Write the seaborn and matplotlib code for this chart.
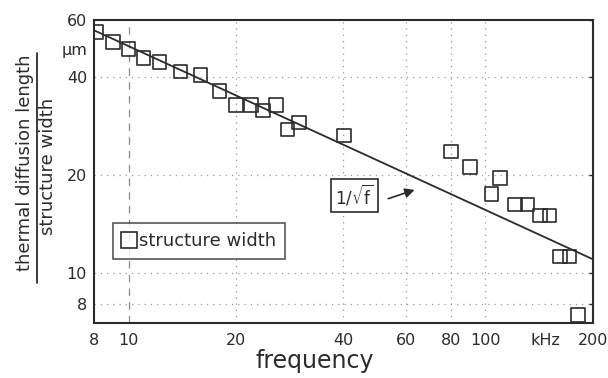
import numpy as np
import pandas as pd
import matplotlib
matplotlib.use("Agg")
import matplotlib.pyplot as plt
from matplotlib.lines import Line2D
import seaborn as sns

# measured points (kHz, diffusion length / structure width)
freq = [8.1, 9.05, 10.0, 11.0, 12.2, 14.0, 15.9, 18.0, 20.0, 22.0, 23.8, 25.9, 27.9,
        30.0, 40.1, 80.0, 90.4, 104, 110, 121, 131, 142, 151, 162, 172, 182]
width = [55.2, 51.3, 48.8, 45.8, 44.5, 41.6, 40.7, 36.3, 32.8, 32.8, 31.6, 32.8, 27.6,
         29.0, 26.5, 23.6, 21.2, 17.5, 19.6, 16.2, 16.2, 15.0, 15.0, 11.2, 11.2, 7.4]

# 1/sqrt(f) reference line endpoints
fit_freq = [8, 200]
fit_val = [55.8, 11.0]

xticks = [8, 10, 20, 40, 60, 80, 100, 200]
yticks = [8, 10, 20, 40, 60]
xgrid = [20, 40, 60, 80, 100]
ygrid = [8, 10, 20, 40]

pts = pd.DataFrame({"f": freq, "w": width})
fit = pd.DataFrame({"f": fit_freq, "w": fit_val})

sns.set_theme(style="white")
plt.rcParams['font.family'] = ['DejaVu Sans']
ink = "#2b2b2b"

fig = plt.figure(figsize=(6.08, 3.78), dpi=100)
ax = fig.add_axes([0.1546, 0.1455, 0.8205, 0.8015])
ax.set_xscale("log")
ax.set_yscale("log")
ax.set_xlim(8, 200)
ax.set_ylim(7, 60)

for g in xgrid:
    ax.axvline(g, color="#9a9a9a", lw=0.9, ls=(0, (1, 4)), zorder=0)
for g in ygrid:
    ax.axhline(g, color="#9a9a9a", lw=0.9, ls=(0, (1, 4)), zorder=0)
ax.axvline(10, color="#8a8a8a", lw=0.9, ls=(0, (6, 5)), zorder=0)

sns.lineplot(data=fit, x="f", y="w", ax=ax, color=ink, lw=1.3, zorder=2)
sns.scatterplot(data=pts, x="f", y="w", ax=ax, marker="s", s=95,
                facecolor="none", edgecolor=ink, linewidth=1.2, zorder=3)

ax.set_xticks(xticks, labels=[str(t) for t in xticks])
ax.set_yticks(yticks, labels=[str(t) for t in yticks])
ax.set_xticks([147], labels=["kHz"], minor=True)
ax.set_yticks([49], labels=["μm"], minor=True)
ax.tick_params(which="major", direction="in", length=3, width=1, color=ink,
               labelsize=11.5, labelcolor=ink, top=False, right=True)
ax.tick_params(axis="x", which="major", pad=7)
ax.tick_params(axis="y", which="major", pad=5)
ax.tick_params(which="minor", length=0, labelsize=11.5, labelcolor=ink)
ax.tick_params(axis="x", which="minor", pad=7)
ax.tick_params(axis="y", which="minor", pad=5)
for s in ax.spines.values():
    s.set_color(ink)
    s.set_linewidth(1.5)
ax.set_xlabel("")
ax.set_ylabel("")

handle = Line2D([], [], marker="s", ls="none", markersize=11, markerfacecolor="none",
                markeredgecolor=ink, markeredgewidth=1.2)
leg = ax.legend([handle], ["structure width"], loc="lower left",
                bbox_to_anchor=(0.02, 0.18), fontsize=13, frameon=True, fancybox=False,
                handlelength=0.8, handletextpad=0.15, borderpad=0.5, labelcolor=ink)
leg.get_frame().set_edgecolor(ink)
leg.get_frame().set_linewidth(1.2)

ax.annotate("", xy=(64.4, 18.1), xytext=(52.5, 16.8),
            arrowprops=dict(arrowstyle="-|>", color=ink, lw=1.2, mutation_scale=14))
ax.text(42.9, 17.3, r"$1/\sqrt{\mathrm{f}}$", ha="center", va="center", fontsize=12, color=ink,
        bbox=dict(boxstyle="square,pad=0.25", fc="white", ec=ink, lw=1.2))

fig.text(0.518, 0.045, "frequency", ha="center", va="center", fontsize=17, color=ink)
fig.text(25 / 608, 1 - 163 / 378, "thermal diffusion length", rotation=90,
         ha="center", va="center", fontsize=13, color=ink)
fig.text(48 / 608, 1 - 166 / 378, "structure width", rotation=90,
         ha="center", va="center", fontsize=13, color=ink)
fig.add_artist(Line2D([37 / 608, 37 / 608], [1 - 283 / 378, 1 - 53 / 378],
                      transform=fig.transFigure, color=ink, lw=1.3))

fig.savefig("out.png", dpi=100)
